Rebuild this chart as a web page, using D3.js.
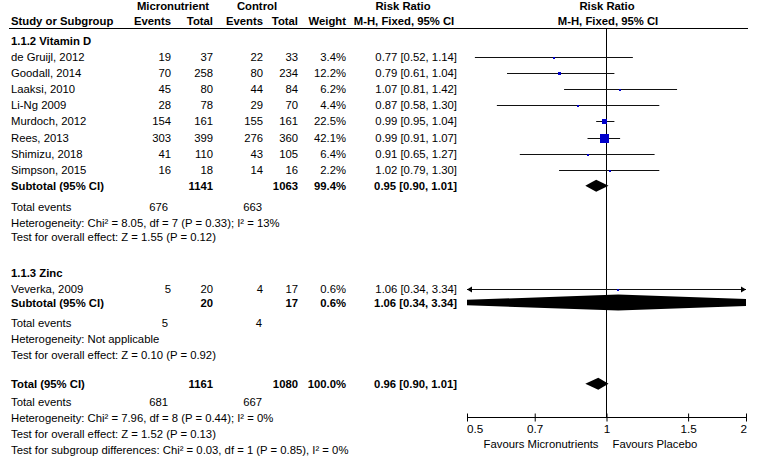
<!DOCTYPE html>
<html><head><meta charset="utf-8">
<script src="https://cdn.jsdelivr.net/npm/d3@7"></script>
<style>
body{margin:0;background:#fff}
svg{display:block;font-family:"Liberation Sans",Arial,sans-serif}
text{fill:#000}
</style></head>
<body><svg id="c" width="757" height="459"></svg>
<script>
// ---------- data ----------
const vitDStudies   = ["de Gruijl, 2012","Goodall, 2014","Laaksi, 2010","Li-Ng 2009","Murdoch, 2012","Rees, 2013","Shimizu, 2018","Simpson, 2015"];
const vitDExpEvents = [19,70,45,28,154,303,41,16];
const vitDExpTotal  = [37,258,80,78,161,399,110,18];
const vitDCtlEvents = [22,80,44,29,155,276,43,14];
const vitDCtlTotal  = [33,234,84,70,161,360,105,16];
const vitDWeight    = [3.4,12.2,6.2,4.4,22.5,42.1,6.4,2.2];
const vitDRR        = [0.77,0.79,1.07,0.87,0.99,0.99,0.91,1.02];
const vitDLo        = [0.52,0.61,0.81,0.58,0.95,0.91,0.65,0.79];
const vitDHi        = [1.14,1.04,1.42,1.30,1.04,1.07,1.27,1.30];
const vitDSubtotal  = {expTotal:1141, ctlTotal:1063, weight:99.4, rr:0.95, lo:0.90, hi:1.01, expEv:676, ctlEv:663};

const zincStudies   = ["Veverka, 2009"];
const zincExpEvents = [5];
const zincExpTotal  = [20];
const zincCtlEvents = [4];
const zincCtlTotal  = [17];
const zincWeight    = [0.6];
const zincRR        = [1.06];
const zincLo        = [0.34];
const zincHi        = [3.34];
const zincSubtotal  = {expTotal:20, ctlTotal:17, weight:0.6, rr:1.06, lo:0.34, hi:3.34, expEv:5, ctlEv:4};

const overall = {expTotal:1161, ctlTotal:1080, weight:100.0, rr:0.96, lo:0.90, hi:1.01, expEv:681, ctlEv:667};

const vitDNotes = ["Heterogeneity: Chi² = 8.05, df = 7 (P = 0.33); I² = 13%","Test for overall effect: Z = 1.55 (P = 0.12)"];
const zincNotes = ["Heterogeneity: Not applicable","Test for overall effect: Z = 0.10 (P = 0.92)"];
const totalNotes = ["Heterogeneity: Chi² = 7.96, df = 8 (P = 0.44); I² = 0%","Test for overall effect: Z = 1.52 (P = 0.13)","Test for subgroup differences: Chi² = 0.03, df = 1 (P = 0.85), I² = 0%"];

const axisTicks = [0.5,0.7,1,1.5,2];
const favoursLeft = "Favours Micronutrients";
const favoursRight = "Favours Placebo";

// ---------- layout ----------
const svg = d3.select("#c");
const FS = 11.3;
const x = d3.scaleLog().domain([0.5,2]).range([467,746]);
const yRow = d3.scaleLinear().domain([0,1]).range([40.9,57]);
const col = {events:171, total:213, cevents:263, ctotal:298, weight:346, ci:457, tevents:168, tcevents:262};
const fmt2 = d3.format(".2f");
const ciText = (r,l,h)=>`${fmt2(r)} [${fmt2(l)}, ${fmt2(h)}]`;
const sizeScale = d3.scalePow().exponent(0.75).domain([0,42.1]).range([0,8.7]);

function txt(s, xx, y, anchor="start", bold=false, size=FS){
  svg.append("text").attr("x",xx).attr("y",y).attr("text-anchor",anchor)
    .attr("font-size",size).attr("font-weight",bold?"bold":"normal").text(s);
}

// headers
txt("Micronutrient",173,10.3,"middle",true);
txt("Control",257,10.3,"middle",true);
txt("Risk Ratio",403,10.3,"middle",true);
txt("Risk Ratio",607,10.3,"middle",true);
txt("Study or Subgroup",11,24.5,"start",true);
txt("Events",col.events,24.5,"end",true);
txt("Total",col.total,24.5,"end",true);
txt("Events",col.cevents,24.5,"end",true);
txt("Total",col.ctotal,24.5,"end",true);
txt("Weight",col.weight,24.5,"end",true);
txt("M-H, Fixed, 95% CI",404,24.5,"middle",true);
txt("M-H, Fixed, 95% CI",608,24.5,"middle",true);
svg.append("line").attr("x1",9).attr("x2",748).attr("y1",28.5).attr("y2",28.5).attr("stroke","#000").attr("stroke-width",1);

// null line
const nx = Math.floor(x(1))+0.5;
svg.append("line").attr("x1",nx).attr("x2",nx)
  .attr("y1",28.5).attr("y2",417.5).attr("stroke","#000").attr("stroke-width",1);

const clipId="plotclip";
svg.append("clipPath").attr("id",clipId).append("rect")
  .attr("x",x.range()[0]).attr("y",0).attr("width",x.range()[1]-x.range()[0]).attr("height",459);

function studyRow(i, name, ee, et, ce, ct, w, r, l, h){
  const yc = yRow(i), yb = yc+4;
  txt(name,11,yb);
  txt(ee,col.events,yb,"end");
  txt(et,col.total,yb,"end");
  txt(ce,col.cevents,yb,"end");
  txt(ct,col.ctotal,yb,"end");
  txt(d3.format(".1f")(w)+"%",col.weight,yb,"end");
  txt(ciText(r,l,h),col.ci,yb,"end");
  const [d0,d1]=x.domain();
  const x0 = x(Math.max(l,d0)), x1 = x(Math.min(h,d1));
  const ly = Math.round(yc)+0.5;
  svg.append("line").attr("x1",x0).attr("x2",x1).attr("y1",ly).attr("y2",ly).attr("stroke","#111").attr("stroke-width",1);
  if(l<d0) svg.append("path").attr("d",`M${x0},${ly} l5,-3 l0,6 z`).attr("fill","#000");
  if(h>d1) svg.append("path").attr("d",`M${x1},${ly} l-5,-3 l0,6 z`).attr("fill","#000");
  const s = Math.max(2,Math.round(sizeScale(w)));
  svg.append("rect").attr("x",Math.round(x(r)-s/2)).attr("y",Math.round(ly-s/2)).attr("width",s).attr("height",s).attr("fill","#0000cc");
}

function diamond(i, r, l, h, hh){
  const yc = yRow(i);
  svg.append("path")
    .attr("d",`M${x(l)},${yc} L${x(r)},${yc-hh/2} L${x(h)},${yc} L${x(r)},${yc+hh/2} Z`)
    .attr("fill","#000").attr("clip-path",`url(#${clipId})`);
}

function summaryRow(i, label, s, hh){
  const yb = yRow(i)+4;
  txt(label,11,yb,"start",true);
  txt(s.expTotal,col.total,yb,"end",true);
  txt(s.ctlTotal,col.ctotal,yb,"end",true);
  txt(d3.format(".1f")(s.weight)+"%",col.weight,yb,"end",true);
  txt(ciText(s.rr,s.lo,s.hi),col.ci,yb,"end",true);
  diamond(i,s.rr,s.lo,s.hi,hh);
}
function eventsRow(i,s){
  const yb = yRow(i)+4;
  txt("Total events",11,yb);
  txt(s.expEv,col.tevents,yb,"end");
  txt(s.ctlEv,col.tcevents,yb,"end");
}

// Vitamin D
txt("1.1.2 Vitamin D",11,yRow(0)+4,"start",true);
vitDStudies.forEach((n,k)=>studyRow(1+k,n,vitDExpEvents[k],vitDExpTotal[k],vitDCtlEvents[k],vitDCtlTotal[k],vitDWeight[k],vitDRR[k],vitDLo[k],vitDHi[k]));
summaryRow(9,"Subtotal (95% CI)",vitDSubtotal,12);
eventsRow(10.3,vitDSubtotal);
vitDNotes.forEach((t,k)=>txt(t,11,yRow([11.3,12.2][k])+4));

// Zinc
txt("1.1.3 Zinc",11,yRow(14.4)+4,"start",true);
zincStudies.forEach((n,k)=>studyRow(15.4+k,n,zincExpEvents[k],zincExpTotal[k],zincCtlEvents[k],zincCtlTotal[k],zincWeight[k],zincRR[k],zincLo[k],zincHi[k]));
summaryRow(16.25,"Subtotal (95% CI)",zincSubtotal,16);
eventsRow(17.5,zincSubtotal);
zincNotes.forEach((t,k)=>txt(t,11,yRow([18.5,19.5][k])+4));

// Total
summaryRow(21.3,"Total (95% CI)",overall,12);
eventsRow(22.4,overall);
totalNotes.forEach((t,k)=>txt(t,11,yRow([23.4,24.4,25.4][k])+4));

// axis
const ay = 417.5;
const ax = svg.append("g").attr("transform",`translate(0,${ay})`)
  .call(d3.axisBottom(x).tickValues(axisTicks).tickFormat(d3.format("")).tickSizeOuter(0).tickSizeInner(4));
ax.select(".domain").attr("d",`M${x.range()[0]},0H${x.range()[1]}`).attr("stroke","#000");
ax.selectAll(".tick line").attr("y1",-4).attr("y2",4).attr("stroke","#000");
ax.selectAll(".tick text").attr("y",15.5).attr("dy",null).attr("font-size",FS+0.4)
  .attr("font-family","Liberation Sans, Arial, sans-serif").attr("fill","#000")
  .attr("text-anchor",(d,k,a)=>k===0?"start":(k===a.length-1?"end":"middle"))
  .attr("dx",(d,k,a)=>k===0?-0.5:(k===a.length-1?0.5:0));
txt(favoursLeft,x(1)-8,447.5,"end");
txt(favoursRight,x(1)+6,447.5,"start");
</script></body></html>
